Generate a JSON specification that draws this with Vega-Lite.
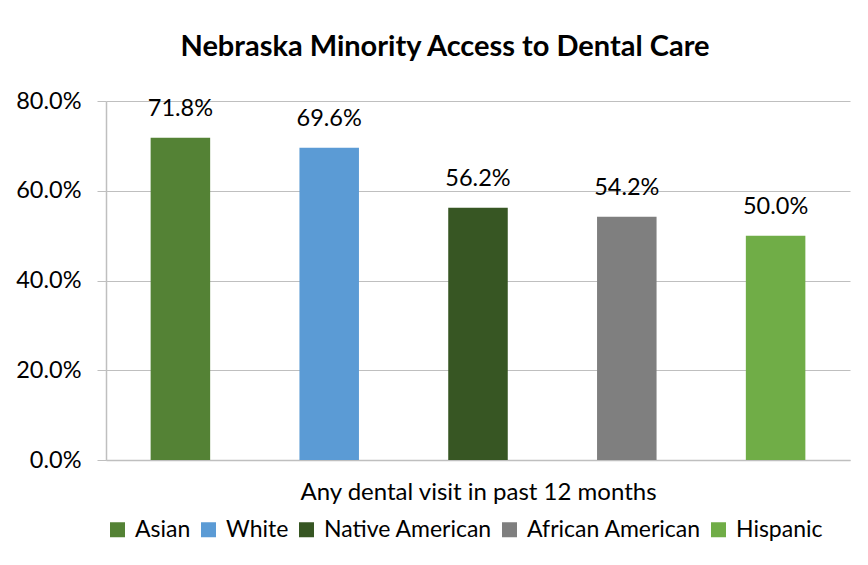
{
  "$schema": "https://vega.github.io/schema/vega-lite/v6.json",
  "width": 744,
  "height": 359,
  "autosize": {"type": "none"},
  "padding": {"left": 106, "top": 101, "right": 18, "bottom": 105},
  "background": "white",
  "title": {
    "text": "Nebraska Minority Access to Dental Care",
    "font": "Lato",
    "fontSize": 29,
    "fontWeight": "bold",
    "color": "#000000",
    "anchor": "middle",
    "dx": -33,
    "offset": 27
  },
  "data": {
    "values": [
      {"race": "Asian", "pct": 0.718},
      {"race": "White", "pct": 0.696},
      {"race": "Native American", "pct": 0.562},
      {"race": "African American", "pct": 0.542},
      {"race": "Hispanic", "pct": 0.500}
    ]
  },
  "encoding": {
    "x": {
      "field": "race",
      "type": "nominal",
      "sort": null,
      "scale": {"paddingInner": 0.6, "paddingOuter": 0.3},
      "axis": {
        "title": "Any dental visit in past 12 months",
        "labels": false,
        "ticks": false,
        "domainColor": "#BFBFBF",
        "domainWidth": 1.5,
        "titleFont": "Lato",
        "titleFontSize": 24,
        "titleFontWeight": "normal",
        "titleColor": "#000000",
        "titlePadding": 20
      }
    },
    "y": {
      "field": "pct",
      "type": "quantitative",
      "scale": {"domain": [0, 0.8]},
      "axis": {
        "title": null,
        "format": ".1%",
        "values": [0, 0.2, 0.4, 0.6, 0.8],
        "labelFont": "Lato",
        "labelFontSize": 23.5,
        "labelColor": "#000000",
        "labelPadding": 16,
        "tickSize": 9,
        "tickColor": "#BFBFBF",
        "domainColor": "#BFBFBF",
        "domainWidth": 1.5,
        "gridColor": "#BFBFBF",
        "gridWidth": 1.2
      }
    }
  },
  "layer": [
    {
      "mark": {"type": "bar"},
      "encoding": {
        "color": {
          "field": "race",
          "type": "nominal",
          "sort": null,
          "scale": {
            "domain": ["Asian", "White", "Native American", "African American", "Hispanic"],
            "range": ["#548235", "#5B9BD5", "#375623", "#7F7F7F", "#70AD47"]
          },
          "legend": {
            "title": null,
            "orient": "bottom",
            "direction": "horizontal",
            "symbolType": "square",
            "symbolSize": 225,
            "symbolStrokeWidth": 0,
            "labelFont": "Lato",
            "labelFontSize": 23,
            "labelColor": "#000000",
            "labelLimit": 400,
            "columnPadding": 6,
            "labelOffset": 6,
            "offset": 14
          }
        }
      }
    },
    {
      "mark": {"type": "text", "dy": -17, "baseline": "bottom", "font": "Lato", "fontSize": 23.5, "color": "#000000"},
      "encoding": {
        "text": {"field": "pct", "type": "quantitative", "format": ".1%"}
      }
    }
  ],
  "config": {
    "view": {"stroke": null}
  }
}
